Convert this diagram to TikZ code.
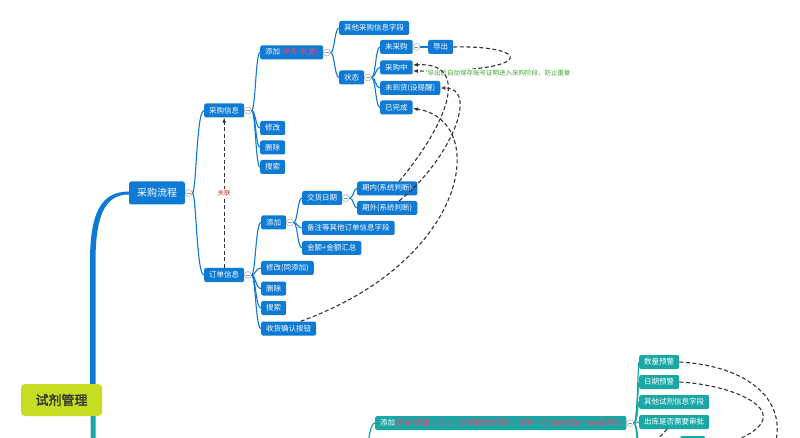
\documentclass[tikz,border=0pt]{standalone}
\usepackage{fontspec}
\setmainfont{Noto Sans CJK SC}[AutoFakeBold=2]
\usetikzlibrary{arrows.meta, calc}
\definecolor{mblue}{RGB}{14,122,212}
\definecolor{mteal}{RGB}{26,168,166}
\definecolor{mlime}{RGB}{197,222,34}
\definecolor{mpink}{RGB}{232,72,120}
\definecolor{mgreen}{RGB}{62,170,48}
\definecolor{mred}{RGB}{212,52,62}
\tikzstyle{root} = [rectangle, 
rounded corners=4pt, 
minimum width=81pt, 
minimum height=32pt, 
fill=mlime, text=black!80, 
font=\fontsize{13}{15}\selectfont\bfseries]
\tikzstyle{topic} = [rectangle, 
rounded corners=2.5pt, 
minimum height=23pt, 
inner xsep=8pt, 
fill=mblue, text=white, 
font=\fontsize{10}{12}\selectfont]
\tikzstyle{subtopic} = [rectangle, 
rounded corners=2pt, 
minimum height=14pt, 
inner xsep=5pt, inner ysep=1pt, 
anchor=west, 
fill=mblue, text=white, 
font=\fontsize{7.5}{9}\selectfont]
\tikzstyle{tealtopic} = [subtopic, fill=mteal]
\tikzstyle{fold} = [circle, 
draw=black!40, fill=white, 
inner sep=0pt, minimum size=7pt, 
path picture={\draw[black!40, line width=0.5pt] ([xshift=-2pt]path picture bounding box.center) -- ([xshift=2pt]path picture bounding box.center);}]
\tikzstyle{branch} = [draw=mblue, line width=1.1pt, 
to path={.. controls ([xshift=4pt]\tikztostart) and ([xshift=4pt]\tikztostart |- \tikztotarget) .. (\tikztotarget) \tikztonodes}]
\tikzstyle{tbranch} = [branch, draw=mteal, line width=1.2pt]
\tikzstyle{rel} = [draw=black!80, line width=1.1pt, dash pattern=on 4pt off 2.5pt, -{Latex[length=5pt,width=4pt]}]
\tikzstyle{relnote} = [fill=white, inner sep=1pt, font=\fontsize{6.5}{8}\selectfont]

\begin{document}
\begin{tikzpicture}[x=1pt, y=-1pt, node distance=19.5pt]
	\path[use as bounding box, fill=white] (0,0) rectangle (800,438);

	\node (root) [root] at (61.5,400) {试剂管理};
	\node (flow) [topic] at (157,193) {采购流程};
	\node (cg_info) [subtopic] at (204,110.5) {采购信息};
	\node (order_info) [subtopic] at (204,275) {订单信息};

	% 采购信息
	\node (cg_add) [subtopic] at (260,52.5) {添加\textcolor{mpink}{(单条/批量)}};
	\node (cg_edit) [subtopic] at (260,128) {修改};
	\node (cg_del) [subtopic, below of=cg_edit] {删除};
	\node (cg_find) [subtopic, below of=cg_del] {搜索};
	\node (cg_other) [subtopic] at (339,28) {其他采购信息字段};
	\node (cg_state) [subtopic] at (339,77.5) {状态};
	\node (st_none) [subtopic] at (380,47) {未采购};
	\node (st_export) [subtopic] at (428,47) {导出};
	\node (st_doing) [subtopic] at (380,67.5) {采购中};
	\node (st_wait) [subtopic] at (380,88) {未到货(设提醒)};
	\node (st_done) [subtopic] at (380,107.5) {已完成};

	% 订单信息
	\node (od_add) [subtopic] at (261,222.5) {添加};
	\node (od_edit) [subtopic] at (261,268) {修改(同添加)};
	\node (od_del) [subtopic] at (261,288.5) {删除};
	\node (od_find) [subtopic, below of=od_del] {搜索};
	\node (od_recv) [subtopic] at (261,328.5) {收货确认按钮};
	\node (od_date) [subtopic] at (302,198) {交货日期};
	\node (od_note) [subtopic] at (302,228) {备注等其他订单信息字段};
	\node (od_sum) [subtopic] at (302,248) {金额+金额汇总};
	\node (date_in) [subtopic] at (357,188.5) {期内(系统判断)};
	\node (date_out) [subtopic] at (357,208) {期外(系统判断)};

	% 试剂
	\node (rg_add) [tealtopic] at (375,423) {添加\textcolor{mpink}{(单条/批量，check后才能释放使用，要有一次block或unblock逻辑)}};
	\node (rg_num) [tealtopic] at (639,362) {数量预警};
	\node (rg_date) [tealtopic] at (639,382) {日期预警};
	\node (rg_other) [tealtopic] at (639,402) {其他试剂信息字段};
	\node (rg_check) [tealtopic] at (639,422) {出库是否需要审批};
	\node (rg_part) [tealtopic, minimum width=25pt] at (680,443) {};

	\node (flow_f) [fold] at ([xshift=3.5pt]flow.east) {};
	\node (cg_info_f) [fold] at ([xshift=3.5pt]cg_info.east) {};
	\node (order_info_f) [fold] at ([xshift=3.5pt]order_info.east) {};
	\node (cg_add_f) [fold] at ([xshift=3.5pt]cg_add.east) {};
	\node (cg_state_f) [fold] at ([xshift=3.5pt]cg_state.east) {};
	\node (st_none_f) [fold] at ([xshift=3.5pt]st_none.east) {};
	\node (od_add_f) [fold] at ([xshift=3.5pt]od_add.east) {};
	\node (od_date_f) [fold] at ([xshift=3.5pt]od_date.east) {};
	\node (rg_add_f) [fold] at ([xshift=3.5pt]rg_add.east) {};

	\coordinate (trunk_b) at ([xshift=-9pt]root.north east);
	\coordinate (trunk_m) at (93,262);
	\coordinate (trunk_d) at (93,470);
	\coordinate (rg_parent) at (362,490);
	\coordinate (rg_more1) at (639,447);
	\coordinate (rg_more2) at (639,468);
	\coordinate (rel_down1) at (773,452);
	\coordinate (rel_down2) at (700,452);
	\coordinate (rel_down3) at (645,452);

	% main trunks
	\fill [mblue] ([xshift=-3pt]trunk_b) -- ([xshift=-3pt]trunk_m) .. controls ([xshift=-3pt,yshift=47pt]trunk_m) and ([xshift=-29pt,yshift=1.5pt]flow.west) .. ([yshift=1.5pt]flow.west) -- ([yshift=-1.5pt]flow.west) .. controls ([xshift=-25pt,yshift=-1.5pt]flow.west) and ([xshift=2.5pt,yshift=44pt]trunk_m) .. ([xshift=2.5pt]trunk_m) -- ([xshift=2.5pt]trunk_b) -- cycle;
	\draw [mteal, line width=5pt] ([xshift=-9pt]root.south east) -- (trunk_d);

	\draw [branch] (flow_f.east) to (cg_info.west);
	\draw [branch] (flow_f.east) to (order_info.west);
	\draw [branch] (cg_info_f.east) to (cg_add.west);
	\draw [branch] (cg_info_f.east) to (cg_edit.west);
	\draw [branch] (cg_info_f.east) to (cg_del.west);
	\draw [branch] (cg_info_f.east) to (cg_find.west);
	\draw [branch] (cg_add_f.east) to (cg_other.west);
	\draw [branch] (cg_add_f.east) to (cg_state.west);
	\draw [branch] (cg_state_f.east) to (st_none.west);
	\draw [branch] (cg_state_f.east) to (st_doing.west);
	\draw [branch] (cg_state_f.east) to (st_wait.west);
	\draw [branch] (cg_state_f.east) to (st_done.west);
	\draw [branch] (st_none_f.east) to (st_export.west);
	\draw [branch] (order_info_f.east) to (od_add.west);
	\draw [branch] (order_info_f.east) to (od_edit.west);
	\draw [branch] (order_info_f.east) to (od_del.west);
	\draw [branch] (order_info_f.east) to (od_find.west);
	\draw [branch] (order_info_f.east) to (od_recv.west);
	\draw [branch] (od_add_f.east) to (od_date.west);
	\draw [branch] (od_add_f.east) to (od_note.west);
	\draw [branch] (od_add_f.east) to (od_sum.west);
	\draw [branch] (od_date_f.east) to (date_in.west);
	\draw [branch] (od_date_f.east) to (date_out.west);

	\draw [tbranch] (rg_parent) to (rg_add.west);
	\draw [tbranch] (rg_add_f.east) to (rg_num.west);
	\draw [tbranch] (rg_add_f.east) to (rg_date.west);
	\draw [tbranch] (rg_add_f.east) to (rg_other.west);
	\draw [tbranch] (rg_add_f.east) to (rg_check.west);
	\draw [tbranch] (rg_add_f.east) to (rg_more1);
	\draw [tbranch] (rg_add_f.east) to (rg_more2);

	% relations
	\draw [rel] (order_info.north) -- node (rel_lbl) [relnote, text=mred] {关联} (cg_info.south);
	\draw [rel] (st_export.east) .. controls (530,45) and (540,72) .. ([yshift=-3.5pt]st_doing.east);
	\node (note_export) [relnote, text=mgreen] at (499,73) {导出后自动保存账号证明进入采购阶段，防止重复};
	\draw [rel] ([xshift=12pt]date_in.north) .. controls (450,120) and (470,62) .. ([yshift=2.5pt]st_doing.east);
	\draw [rel] ([xshift=12pt]date_out.north) .. controls (450,160) and (480,88) .. (st_wait.east);
	\draw [rel] ([xshift=12pt]od_recv.north) .. controls (470,260) and (490,120) .. ([yshift=-1pt]st_done.east);
	\draw [rel] (rg_num.east) .. controls (740,365) and (790,395) .. (rel_down1);
	\draw [rel] (rg_date.east) .. controls (740,385) and (820,420) .. (rel_down2);
	\draw [rel] ([xshift=-7pt]rg_check.south) -- (rel_down3);
\end{tikzpicture}
\end{document}
